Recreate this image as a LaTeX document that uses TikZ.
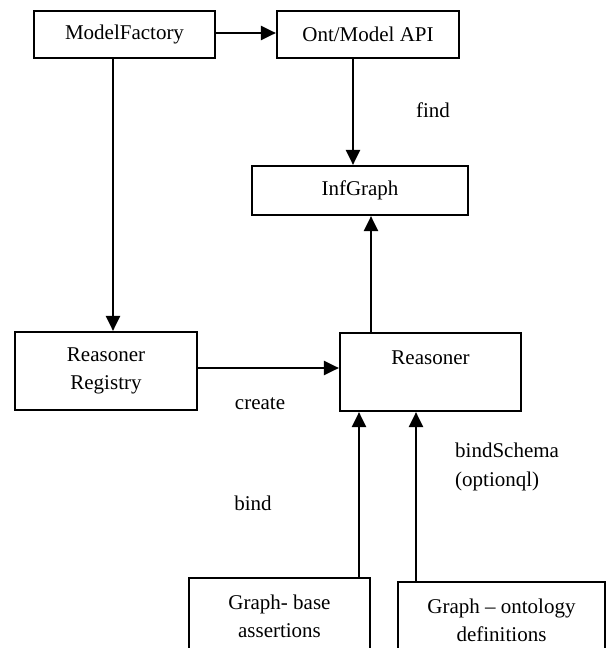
\documentclass[tikz,border=0pt]{standalone}
\usepackage{fontspec}
\setmainfont{Liberation Serif}
\usetikzlibrary{arrows.meta,positioning}
\tikzset{
  box/.style={draw=black, line width=2.2pt, align=center, fill=white, inner sep=0pt, font=\fontsize{21}{28}\selectfont},
  arrow/.style={-{Triangle[length=15pt,width=14pt]}, line width=2.2pt, draw=black},
  lbl/.style={inner sep=0pt, align=left, font=\fontsize{21}{29}\selectfont}
}

\begin{document}
\begin{tikzpicture}[x=1pt, y=-1pt]
  \useasboundingbox (0,0) rectangle (611,648);
  \clip (0,0) rectangle (611,648);
  \node[box, minimum width=181pt, minimum height=47pt] (factory) at (124.5,34.5) {ModelFactory};
  \node[box, minimum width=182pt, minimum height=47pt] (api) at (368,34.5) {Ont/Model API};
  \node[box, minimum width=216pt, minimum height=49pt] (infgraph) at (360,190.5) {InfGraph};
  \node[box, minimum width=182pt, minimum height=78pt] (registry) at (106,371) {Reasoner\\Registry};
  \node[box, minimum width=181pt, minimum height=78pt] (reasoner) at (430.5,372) {Reasoner\\~};
  \node[box, minimum width=181pt, minimum height=77pt] (base) at (279.5,616.5) {Graph- base\\assertions};
  \node[box, minimum width=207pt, minimum height=77pt] (onto) at (501.5,620.5) {Graph -- ontology\\definitions};
  \node[lbl] (find) at (433,110) {find};
  \node[lbl] (create) at (260,404) {create};
  \node[lbl] (bind) at (253,503) {bind};
  \node[lbl, anchor=west] (schema) at (455,467) {bindSchema\\(optionql)};
  \draw[arrow] ([yshift=1.5pt]factory.east) -- ([yshift=1.5pt]api.west);
  \draw[arrow] ([xshift=-15pt]api.south) -- ([xshift=-15pt]api.south |- infgraph.north);
  \draw[arrow] ([xshift=-11.5pt]factory.south) -- ([xshift=-11.5pt]factory.south |- registry.north);
  \draw[arrow] ([yshift=3pt]registry.east) -- ([yshift=3pt]registry.east -| reasoner.west);
  \draw[arrow] ([xshift=-59.5pt]reasoner.north) -- ([xshift=-59.5pt]reasoner.north |- infgraph.south);
  \draw[arrow] ([xshift=79.5pt]base.north) -- ([xshift=79.5pt]base.north |- reasoner.south);
  \draw[arrow] ([xshift=-85.5pt]onto.north) -- ([xshift=-85.5pt]onto.north |- reasoner.south);
\end{tikzpicture}
\end{document}
